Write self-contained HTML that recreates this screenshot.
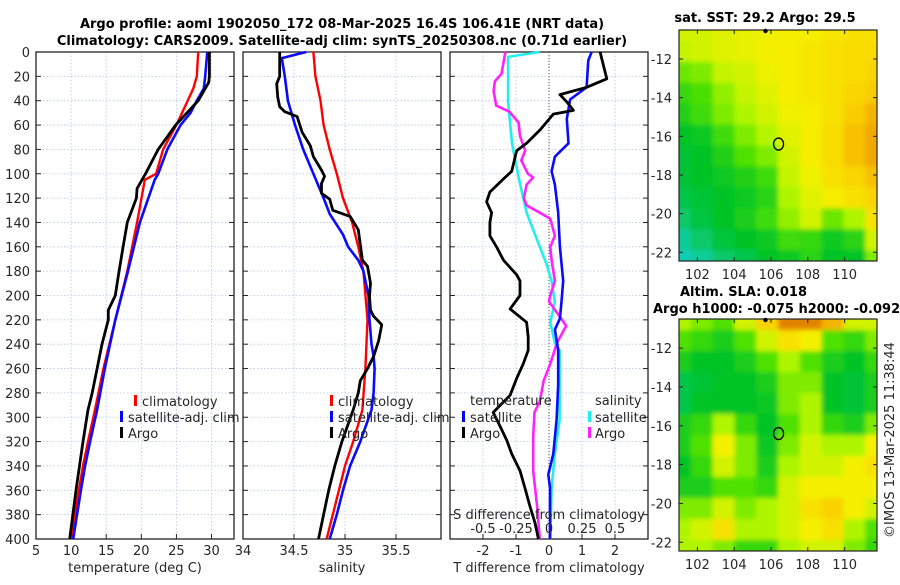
<!DOCTYPE html>
<html><head><meta charset="utf-8">
<style>
body{margin:0;background:#fff;}
svg text{font-family:"DejaVu Sans","Liberation Sans",sans-serif;fill:#262626;}
</style></head>
<body>
<svg id="fig" width="900" height="580" viewBox="0 0 900 580" xmlns="http://www.w3.org/2000/svg">
<defs>
<filter id="blur" x="0" y="0" width="100%" height="100%"><feGaussianBlur stdDeviation="2.5"/></filter>
<clipPath id="clipTop"><rect x="679" y="30" width="198" height="231"/></clipPath>
<clipPath id="clipBot"><rect x="679" y="319" width="198" height="232"/></clipPath>
</defs>
<text x="342" y="28" text-anchor="middle" font-size="13" font-weight="bold" style="fill:#000">Argo profile: aoml 1902050_172 08-Mar-2025 16.4S 106.41E (NRT data)</text>
<text x="342" y="45" text-anchor="middle" font-size="13" font-weight="bold" style="fill:#000">Climatology: CARS2009. Satellite-adj clim: synTS_20250308.nc (0.71d earlier)</text>
<g id="g"></g>
</svg>
<script>
// ---------- data ----------
const depthTicks=[0,20,40,60,80,100,120,140,160,180,200,220,240,260,280,300,320,340,360,380,400];
// Panel 1 temperature
const tClimDepth=[0,20,30,40,60,80,100,105,140,180,220,260,294,320,340,360,400];
const tClimVal=[28.1,27.9,27.4,26.6,25.0,23.1,22.1,20.5,19.4,18.0,16.3,14.6,13.4,12.4,11.7,11.1,10.0];
const tSatDepth=[0,20,30,40,50,60,80,100,105,140,180,220,260,294,320,340,360,400];
const tSatVal=[29.4,29.1,28.9,27.9,27.0,25.6,23.7,22.4,21.9,19.8,18.1,16.3,14.8,13.7,12.7,12.0,11.4,10.3];
const tArgoDepth=[0,20,25,40,60,80,100,112,120,140,160,185,200,212,220,240,260,280,294,320,340,360,400];
const tArgoVal=[29.7,29.7,29.6,28.1,24.9,22.4,20.6,19.4,19.3,18.0,17.4,16.7,16.3,15.3,15.3,14.4,13.7,13.0,12.4,11.7,11.2,10.7,9.8];
// Panel 2 salinity
const sClimDepth=[0,20,40,60,80,100,120,140,160,180,220,260,294,320,340,360,380,400];
const sClimVal=[34.69,34.71,34.76,34.79,34.85,34.92,34.98,35.07,35.13,35.18,35.22,35.20,35.17,35.08,35.00,34.94,34.88,34.82];
const sSatDepth=[0,5,20,40,60,80,100,120,133,150,160,171,180,200,220,240,250,260,280,294,320,340,360,380,400];
const sSatVal=[34.62,34.38,34.41,34.44,34.51,34.59,34.69,34.79,34.85,34.98,35.03,35.13,35.18,35.23,35.24,35.26,35.28,35.29,35.28,35.26,35.15,35.05,34.98,34.92,34.85];
const sArgoDepth=[0,20,26,37,45,49,53,66,77,86,97,102,108,116,121,130,135,146,171,176,190,201,212,217,224,237,250,260,270,280,294,320,340,360,380,400];
const sArgoVal=[34.36,34.36,34.33,34.34,34.36,34.41,34.53,34.58,34.66,34.69,34.77,34.80,34.77,34.77,34.85,34.88,35.05,35.13,35.17,35.22,35.25,35.24,35.25,35.28,35.36,35.33,35.28,35.22,35.15,35.13,35.08,34.97,34.90,34.84,34.79,34.74];
// Panel 3 differences
const dTArgoDepth=[0,22,29,35,41,48,51,64,75,81,98,103,115,123,132,140,151,160,171,183,188,200,211,222,234,245,256,268,282,296,307,319,330,344,358,373,387,400];
const dTArgoVal=[1.55,1.75,1.14,0.33,0.54,0.74,0.13,-0.27,-0.68,-0.98,-1.13,-1.33,-1.79,-1.89,-1.74,-1.79,-1.79,-1.59,-1.38,-0.98,-0.88,-0.88,-1.18,-0.68,-0.63,-0.63,-0.78,-0.98,-1.18,-1.69,-1.49,-1.28,-1.13,-0.88,-0.73,-0.58,-0.42,-0.32];
const dTSatDepth=[0,7,29,39,55,75,86,98,109,132,160,188,205,219,228,245,273,302,330,347,358,400];
const dTSatVal=[1.29,1.19,1.14,0.64,0.54,0.59,0.18,0.08,0.18,0.28,0.33,0.43,0.38,0.33,0.18,0.28,0.28,0.23,0.13,-0.02,0.03,0.03];
const dSSatDepth=[0,4,41,75,103,132,160,174,188,205,222,239,245,273,302,330,358,400];
const dSSatVal=[-0.07,-0.31,-0.31,-0.28,-0.23,-0.17,-0.07,-0.02,0.02,0.045,0.01,0.045,0.08,0.08,0.08,0.045,0.02,0.01];
const dSArgoDepth=[0,18,24,32,44,49,58,69,81,89,100,103,109,120,126,132,137,151,160,171,188,200,205,214,225,239,256,270,287,296,316,344,373,400];
const dSArgoVal=[-0.33,-0.36,-0.41,-0.42,-0.40,-0.30,-0.23,-0.22,-0.18,-0.21,-0.16,-0.12,-0.17,-0.19,-0.17,-0.07,0.01,0.045,0.01,0.02,0.045,0.01,0.0,0.06,0.13,0.06,0.01,-0.04,-0.07,-0.11,-0.12,-0.12,-0.09,-0.07];
// Maps (rows north->south, cols west->east), normalised colour values
const sstGrid=[
[.6,.6,.62,.63,.64,.65,.66,.68,.7,.7],
[.58,.6,.62,.63,.65,.66,.68,.7,.72,.72],
[.48,.5,.58,.6,.64,.66,.68,.7,.72,.74],
[.4,.44,.52,.58,.62,.66,.68,.7,.74,.76],
[.36,.42,.5,.55,.6,.64,.66,.7,.76,.8],
[.3,.33,.42,.5,.56,.62,.66,.72,.78,.82],
[.28,.3,.36,.45,.5,.6,.66,.72,.78,.82],
[.28,.3,.33,.36,.42,.58,.64,.7,.74,.78],
[.25,.28,.3,.33,.38,.55,.62,.66,.7,.74],
[.2,.26,.3,.35,.42,.52,.6,.48,.55,.7],
[.12,.2,.27,.3,.33,.42,.4,.33,.38,.6],
[.08,.12,.2,.24,.3,.33,.38,.3,.3,.5]];
const slaGrid=[
[.55,.5,.45,.6,.75,.9,.9,.8,.6,.6],
[.45,.4,.35,.45,.6,.7,.65,.45,.4,.5],
[.35,.3,.3,.35,.45,.55,.45,.35,.3,.4],
[.25,.28,.3,.3,.35,.5,.5,.3,.28,.35],
[.25,.3,.3,.3,.32,.5,.55,.3,.28,.35],
[.35,.4,.55,.4,.3,.45,.55,.4,.35,.5],
[.35,.45,.65,.5,.32,.5,.6,.55,.55,.65],
[.3,.4,.6,.5,.35,.55,.6,.6,.65,.7],
[.35,.35,.45,.45,.4,.6,.65,.65,.65,.65],
[.5,.5,.6,.5,.55,.6,.7,.75,.65,.6],
[.55,.6,.7,.55,.55,.6,.65,.7,.55,.45],
[.55,.55,.5,.4,.4,.55,.6,.6,.5,.4]];
const latTicks=[-12,-14,-16,-18,-20,-22];
const lonTicks=[102,104,106,108,110];
const argoLon=106.41, argoLat=-16.4;

// ---------- drawing ----------
const NS='http://www.w3.org/2000/svg';
const G=document.getElementById('g');
function el(tag,attrs,parent){const e=document.createElementNS(NS,tag);for(const k in attrs)e.setAttribute(k,attrs[k]);(parent||G).appendChild(e);return e;}
const Y0=52,Y1=539;
const yD=d=>Y0+(Y1-Y0)*d/400;

function panel(name,x0,x1,dom,ticks,tickFmt,xlabel){
  const sx=v=>x0+(x1-x0)*(v-dom[0])/(dom[1]-dom[0]);
  const g=el('g',{});
  
  
  ticks.forEach(t=>{const l=el('line',{x1:sx(t),x2:sx(t),y1:Y0,y2:Y1,stroke:'#b8c4e8','stroke-width':0.8,'stroke-dasharray':'1.5,2'},g);
    });
  depthTicks.forEach(d=>{const l=el('line',{x1:x0,x2:x1,y1:yD(d),y2:yD(d),stroke:'#b8c4e8','stroke-width':0.8,'stroke-dasharray':'1.5,2'},g);
    
    el('line',{x1:x0,x2:x0+5,y1:yD(d),y2:yD(d),stroke:'#222'},g);el('line',{x1:x1-5,x2:x1,y1:yD(d),y2:yD(d),stroke:'#222'},g);});
  const fr=el('rect',{x:x0,y:Y0,width:x1-x0,height:Y1-Y0,fill:'none',stroke:'#222','stroke-width':1.3},g);
  
  ticks.forEach(t=>{el('line',{x1:sx(t),x2:sx(t),y1:Y1,y2:Y1-5,stroke:'#222'},g);
    if(tickFmt){const tx=el('text',{x:sx(t),y:555,'text-anchor':'middle','font-size':13},g);tx.textContent=tickFmt(t);
    }});
  if(xlabel){const tx=el('text',{x:(x0+x1)/2,y:572,'text-anchor':'middle','font-size':13},g);tx.textContent=xlabel;
    }
  return {sx,g};
}
function line(p,vals,deps,color,name,w){
  const pts=vals.map((v,i)=>p.sx(v).toFixed(1)+','+yD(deps[i]).toFixed(1)).join(' ');
  const l=el('polyline',{points:pts,fill:'none',stroke:color,'stroke-width':w||2.6,'stroke-linejoin':'round'},p.g);
  
}
function txt(x,y,s,name,opts){const t=el('text',Object.assign({x:x,y:y,'font-size':13},opts||{}));t.textContent=s;
  return t;}
function legMark(x,y,color,name){const r=el('rect',{x:x,y:y-10,width:3,height:11,fill:color});
  }

depthTicks.forEach(d=>{txt(30,yD(d)+5,String(d),'y-tick-label',{'text-anchor':'end'});});

const p1=panel('temperature-panel',36,234,[5,33.2],[5,10,15,20,25,30],t=>String(t),'temperature (deg C)');
line(p1,tClimVal,tClimDepth,'#ff0000','temp-climatology-line',2.4);
line(p1,tSatVal,tSatDepth,'#0a0aff','temp-satellite-line');
line(p1,tArgoVal,tArgoDepth,'#000','temp-argo-line',2.8);
legMark(134,405,'#f00','legend-climatology-mark');txt(142,406,'climatology','legend-climatology');
legMark(120,421,'#00f','legend-satellite-mark');txt(128,422,'satellite-adj. clim','legend-satellite');
legMark(120,437,'#000','legend-argo-mark');txt(128,438,'Argo','legend-argo');

const p2=panel('salinity-panel',243,441,[34,35.941],[34,34.5,35,35.5],t=>String(t),'salinity');
line(p2,sClimVal,sClimDepth,'#ff0000','sal-climatology-line',2.4);
line(p2,sSatVal,sSatDepth,'#0a0aff','sal-satellite-line');
line(p2,sArgoVal,sArgoDepth,'#000','sal-argo-line',2.8);
legMark(330,405,'#f00','legend-climatology-mark');txt(338,406,'climatology','legend-climatology');
legMark(330,421,'#00f','legend-satellite-mark');txt(338,422,'satellite-adj. clim','legend-satellite');
legMark(330,437,'#000','legend-argo-mark');txt(338,438,'Argo','legend-argo');

const p3=panel('difference-panel',450,648,[-3,3],[-2,-1,0,1,2],t=>String(t),'T difference from climatology');
const zl=el('line',{x1:p3.sx(0),x2:p3.sx(0),y1:Y0,y2:Y1,stroke:'#555','stroke-width':1,'stroke-dasharray':'1,2'},p3.g);

const p3s={sx:v=>p3.sx(v*4),g:p3.g};
line(p3s,dSSatVal,dSSatDepth,'#22eeee','sdiff-satellite-line');
line(p3s,dSArgoVal,dSArgoDepth,'#ff22ff','sdiff-argo-line');
line(p3,dTSatVal,dTSatDepth,'#0a0aff','tdiff-satellite-line');
line(p3,dTArgoVal,dTArgoDepth,'#000','tdiff-argo-line',2.8);
txt(470,405,'temperature','legend-temperature-heading');
legMark(462,421,'#00f','legend-tsat-mark');txt(470,422,'satellite','legend-tsat');
legMark(462,437,'#000','legend-targo-mark');txt(470,438,'Argo','legend-targo');
txt(595,405,'salinity','legend-salinity-heading');
legMark(588,421,'#2ee','legend-ssat-mark');txt(595,422,'satellite','legend-ssat');
legMark(588,437,'#f2f','legend-sargo-mark');txt(595,438,'Argo','legend-sargo');
txt(549,519,'S difference from climatology','s-axis-title',{'text-anchor':'middle'});
[-0.5,-0.25,0,0.25,0.5].forEach(s=>txt(p3s.sx(s),533,String(s),'s-tick-label',{'text-anchor':'middle'}));

// ---------- maps ----------
function cmap(v){
  const st=[[0,[20,210,230]],[0.3,[0,195,40]],[0.45,[80,225,0]],[0.55,[175,245,0]],[0.65,[245,240,0]],[0.75,[250,210,0]],[0.85,[240,150,0]],[1,[200,90,0]]];
  for(let i=1;i<st.length;i++){if(v<=st[i][0]){const a=st[i-1],b=st[i],f=(v-a[0])/(b[0]-a[0]);
    return 'rgb('+a[1].map((c,k)=>Math.round(c+(b[1][k]-c)*f)).join(',')+')';}}
  return 'rgb(200,90,0)';
}
function map(name,grid,y0,clip){
  const x0=679,w=198,h=(name==='sst-map'?231:232);
  const lonMin=101.0,lonMax=111.76,latMax=-10.5,latMin=-22.45;
  const mx=lo=>x0+w*(lo-lonMin)/(lonMax-lonMin);
  const my=la=>y0+h*(latMax-la)/(latMax-latMin);
  const g=el('g',{'clip-path':'url(#'+clip+')'});
  
  const inner=el('g',{filter:'url(#blur)'},g);
  const rows=grid.length,cols=grid[0].length,cw=(w+20)/cols,ch=(h+20)/rows;
  grid.forEach((row,r)=>row.forEach((v,c)=>{
    const cell=el('rect',{x:x0-10+c*cw,y:y0-10+r*ch,width:cw+1,height:ch+1,fill:cmap(v)},inner);
    
  }));
  const fr=el('rect',{x:x0,y:y0,width:w,height:h,fill:'none',stroke:'#222','stroke-width':1.2});
  
  latTicks.forEach(la=>{el('line',{x1:x0,x2:x0+4,y1:my(la),y2:my(la),stroke:'#222'});el('line',{x1:x0+w-4,x2:x0+w,y1:my(la),y2:my(la),stroke:'#222'});
    txt(672,my(la)+5,String(la),'lat-tick-label',{'text-anchor':'end'});});
  lonTicks.forEach(lo=>{el('line',{x1:mx(lo),x2:mx(lo),y1:y0+h,y2:y0+h-4,stroke:'#222'});el('line',{x1:mx(lo),x2:mx(lo),y1:y0,y2:y0+4,stroke:'#222'});
    txt(mx(lo),y0+h+18,String(lo),'lon-tick-label',{'text-anchor':'middle'});});
  const c=el('ellipse',{cx:mx(argoLon),cy:my(argoLat),rx:5,ry:6,fill:'none',stroke:'#000','stroke-width':1.3});
  
  el('circle',{cx:mx(105.7),cy:y0+1,r:2.2,fill:'#000'});
}
map('sst-map',sstGrid,30,'clipTop');
map('sla-map',slaGrid,319,'clipBot');
txt(765,22,'sat. SST: 29.2 Argo: 29.5','sst-map-title',{'text-anchor':'middle','font-weight':'bold',style:'fill:#000'});
txt(680,296,'Altim. SLA: 0.018','sla-map-title',{'font-weight':'bold',style:'fill:#000'});
txt(653,313,'Argo h1000: -0.075 h2000: -0.092','sla-map-subtitle',{'font-weight':'bold',style:'fill:#000'});
txt(0,0,'©IMOS 13-Mar-2025 11:38:44','copyright-timestamp',{'text-anchor':'middle',transform:'translate(894,440) rotate(-90)'});
</script>
</body></html>
